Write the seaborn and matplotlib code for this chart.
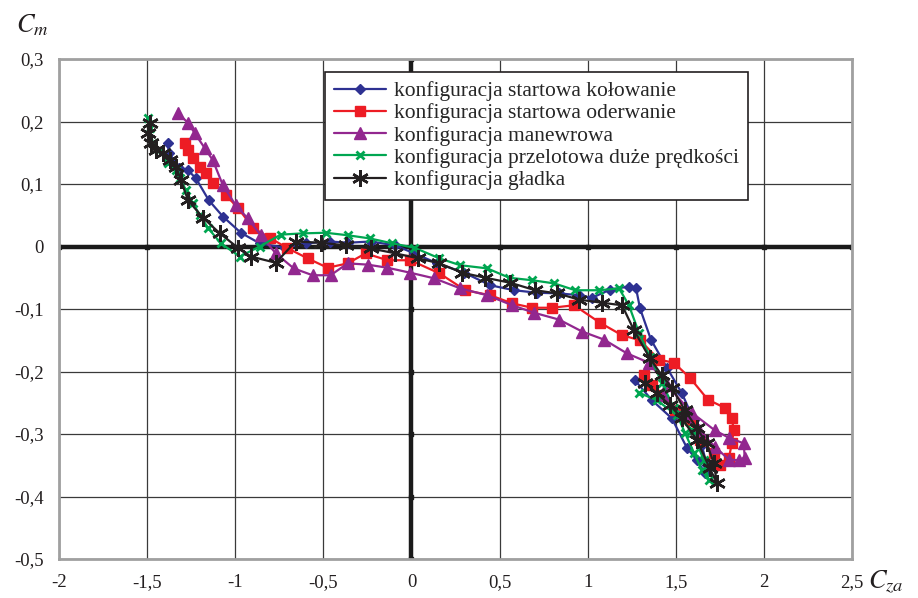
import matplotlib
matplotlib.use("Agg")
import matplotlib.pyplot as plt
import seaborn as sns
import pandas as pd

# ---------------- data (Cza, Cm) ----------------
kol_x = [-1.382, -1.376, -1.319, -1.268, -1.223, -1.150, -1.070, -0.968, -0.861, -0.719,
         -0.600, -0.464, -0.362, -0.232, -0.096, 0.017, 0.147, 0.300, 0.447, 0.583,
         0.713, 0.838, 0.951, 1.025, 1.127, 1.234, 1.274, 1.297, 1.359, 1.450,
         1.535, 1.603, 1.648, 1.676, 1.665, 1.620, 1.563, 1.478, 1.365, 1.268]
kol_y = [0.165, 0.150, 0.126, 0.122, 0.109, 0.074, 0.048, 0.022, 0.005, -0.002,
         0.005, 0.008, 0.006, 0.008, 0.002, -0.011, -0.027, -0.042, -0.062, -0.070,
         -0.074, -0.075, -0.078, -0.082, -0.069, -0.064, -0.066, -0.099, -0.149, -0.194,
         -0.235, -0.278, -0.318, -0.350, -0.362, -0.342, -0.322, -0.275, -0.246, -0.214]

oder_x = [-1.285, -1.268, -1.240, -1.200, -1.166, -1.127, -1.053, -0.985, -0.900, -0.804,
          -0.708, -0.589, -0.476, -0.362, -0.260, -0.136, -0.006, 0.159, 0.306, 0.447,
          0.572, 0.685, 0.798, 0.923, 1.070, 1.195, 1.297, 1.404, 1.489, 1.580,
          1.682, 1.778, 1.818, 1.829, 1.818, 1.801, 1.750, 1.716, 1.636, 1.580,
          1.495, 1.410, 1.365, 1.319]
oder_y = [0.165, 0.154, 0.141, 0.128, 0.117, 0.102, 0.082, 0.062, 0.030, 0.014,
          -0.002, -0.019, -0.034, -0.027, -0.011, -0.022, -0.022, -0.043, -0.070, -0.078,
          -0.091, -0.098, -0.098, -0.094, -0.122, -0.142, -0.150, -0.181, -0.186, -0.210,
          -0.245, -0.258, -0.275, -0.294, -0.315, -0.339, -0.350, -0.330, -0.310, -0.278,
          -0.262, -0.238, -0.222, -0.206]

man_x = [-1.325, -1.268, -1.229, -1.172, -1.127, -1.070, -0.997, -0.929, -0.855, -0.770,
         -0.668, -0.561, -0.459, -0.362, -0.249, -0.136, -0.006, 0.130, 0.277, 0.430,
         0.572, 0.696, 0.838, 0.968, 1.093, 1.223, 1.348, 1.450, 1.591, 1.721,
         1.801, 1.886, 1.891, 1.857, 1.801, 1.721, 1.631, 1.535, 1.433]
man_y = [0.213, 0.198, 0.181, 0.157, 0.138, 0.098, 0.066, 0.045, 0.018, -0.011,
         -0.035, -0.046, -0.046, -0.027, -0.029, -0.034, -0.042, -0.051, -0.067, -0.078,
         -0.094, -0.106, -0.117, -0.136, -0.149, -0.171, -0.186, -0.222, -0.266, -0.294,
         -0.306, -0.315, -0.338, -0.342, -0.341, -0.320, -0.294, -0.270, -0.238]

prz_x = [-1.495, -1.484, -1.467, -1.433, -1.382, -1.336, -1.314, -1.280, -1.240, -1.200,
         -1.155, -1.082, -0.974, -0.861, -0.742, -0.617, -0.487, -0.362, -0.238, -0.108,
         0.017, 0.159, 0.277, 0.430, 0.555, 0.685, 0.810, 0.929, 1.065, 1.178,
         1.234, 1.291, 1.353, 1.421, 1.489, 1.552, 1.603, 1.648, 1.687, 1.659,
         1.591, 1.506, 1.393, 1.291]
prz_y = [0.206, 0.190, 0.165, 0.154, 0.134, 0.122, 0.110, 0.090, 0.069, 0.050,
         0.030, 0.005, -0.016, 0.000, 0.019, 0.021, 0.022, 0.018, 0.013, 0.005,
         -0.002, -0.019, -0.030, -0.035, -0.050, -0.054, -0.059, -0.070, -0.070, -0.067,
         -0.094, -0.138, -0.176, -0.218, -0.258, -0.298, -0.330, -0.358, -0.374, -0.342,
         -0.294, -0.270, -0.246, -0.234]

gla_x = [-1.484, -1.495, -1.478, -1.450, -1.410, -1.370, -1.336, -1.308, -1.268, -1.183,
         -1.087, -0.985, -0.912, -0.770, -0.657, -0.515, -0.374, -0.232, -0.091, 0.040,
         0.159, 0.289, 0.419, 0.561, 0.702, 0.827, 0.951, 1.082, 1.195, 1.263,
         1.353, 1.421, 1.478, 1.552, 1.620, 1.676, 1.716, 1.733, 1.693, 1.620,
         1.535, 1.467, 1.393, 1.325]
gla_y = [0.198, 0.182, 0.166, 0.154, 0.149, 0.138, 0.128, 0.106, 0.074, 0.046,
         0.021, -0.002, -0.016, -0.026, 0.008, 0.006, 0.002, -0.003, -0.011, -0.019,
         -0.027, -0.042, -0.050, -0.058, -0.070, -0.075, -0.085, -0.090, -0.094, -0.134,
         -0.179, -0.206, -0.226, -0.262, -0.291, -0.315, -0.347, -0.378, -0.355, -0.310,
         -0.275, -0.254, -0.235, -0.218]

series_labels = ["konfiguracja startowa kołowanie",
                 "konfiguracja startowa oderwanie",
                 "konfiguracja manewrowa",
                 "konfiguracja przelotowa duże prędkości",
                 "konfiguracja gładka"]

x_ticks = [-2, -1.5, -1, -0.5, 0, 0.5, 1, 1.5, 2, 2.5]
x_tick_labels = ["-2", "-1,5", "-1", "-0,5", "0", "0,5", "1", "1,5", "2", "2,5"]
y_ticks = [-0.5, -0.4, -0.3, -0.2, -0.1, 0, 0.1, 0.2, 0.3]
y_tick_labels = ["-0,5", "-0,4", "-0,3", "-0,2", "-0,1", "0", "0,1", "0,2", "0,3"]

# ---------------- style ----------------
sns.set_theme(style="white")
plt.rcParams["font.family"] = ["Liberation Serif", "DejaVu Serif"]
plt.rcParams["mathtext.fontset"] = "stix"
plt.rcParams["axes.unicode_minus"] = False

fig = plt.figure(figsize=(9.18, 5.98), dpi=100)
ax = fig.add_axes([59 / 918, 39 / 598, 793 / 918, 500 / 598])

styles = [
    dict(color="#2E3192", marker="D", markersize=5.5, markeredgewidth=1),
    dict(color="#ED1C24", marker="s", markersize=7.5, markeredgewidth=1),
    dict(color="#92278F", marker="^", markersize=8.5, markeredgewidth=1),
    dict(color="#00A651", marker="x", markersize=5.5, markeredgewidth=2),
    dict(color="#231F20", marker=(6, 2, 0), markersize=12, markeredgewidth=1.8),
]
data = [(kol_x, kol_y), (oder_x, oder_y), (man_x, man_y), (prz_x, prz_y), (gla_x, gla_y)]

# axes through origin
ax.axhline(0, color="#1a1a1a", lw=3.2, zorder=1.5)
ax.axvline(0, color="#1a1a1a", lw=3.2, zorder=1.5)
ax.plot(x_ticks, [0] * len(x_ticks), ls="none", marker="s", ms=3.5, color="#1a1a1a", zorder=1.6)
ax.plot([0] * len(y_ticks), y_ticks, ls="none", marker="s", ms=3.5, color="#1a1a1a", zorder=1.6)

for (xs, ys), lab, st in zip(data, series_labels, styles):
    df = pd.DataFrame({"Cza": xs, "Cm": ys})
    sns.lineplot(data=df, x="Cza", y="Cm", sort=False, estimator=None, ax=ax,
                 label=lab, color=st["color"], lw=1.6, marker=st["marker"],
                 markersize=st["markersize"], markeredgewidth=st["markeredgewidth"],
                 markeredgecolor=st["color"], markerfacecolor=st["color"], zorder=3)

ax.set_xlim(-2, 2.5)
ax.set_ylim(-0.5, 0.3)
ax.set_xticks(x_ticks)
ax.set_xticklabels(x_tick_labels)
ax.set_yticks(y_ticks)
ax.set_yticklabels(y_tick_labels)
ax.tick_params(axis="both", length=0, pad=11, labelsize=13.5, colors="#231F20")
ax.grid(True, color="#3a3a3a", lw=0.9)
ax.set_axisbelow(True)
for sp in ax.spines.values():
    sp.set_color("#a0a0a0")
    sp.set_linewidth(2)
ax.set_xlabel("")
ax.set_ylabel("")

ax.text(-0.034, 1.068, "$C_m$", transform=ax.transAxes, fontsize=19,
        ha="center", va="center", color="#231F20")
ax.text(1.043, -0.046, "$C_{za}$", transform=ax.transAxes, fontsize=19,
        ha="center", va="center", color="#231F20")

leg = ax.legend(loc="upper left", bbox_to_anchor=(0.335, 0.975), borderaxespad=0,
                fontsize=15.5, frameon=True, fancybox=False, handlelength=2.4,
                labelspacing=0.1, borderpad=0.45, handletextpad=0.35)
leg.get_frame().set_edgecolor("#231F20")
leg.get_frame().set_linewidth(1.2)
leg.get_frame().set_alpha(1)

fig.savefig("out.png", dpi=100)
